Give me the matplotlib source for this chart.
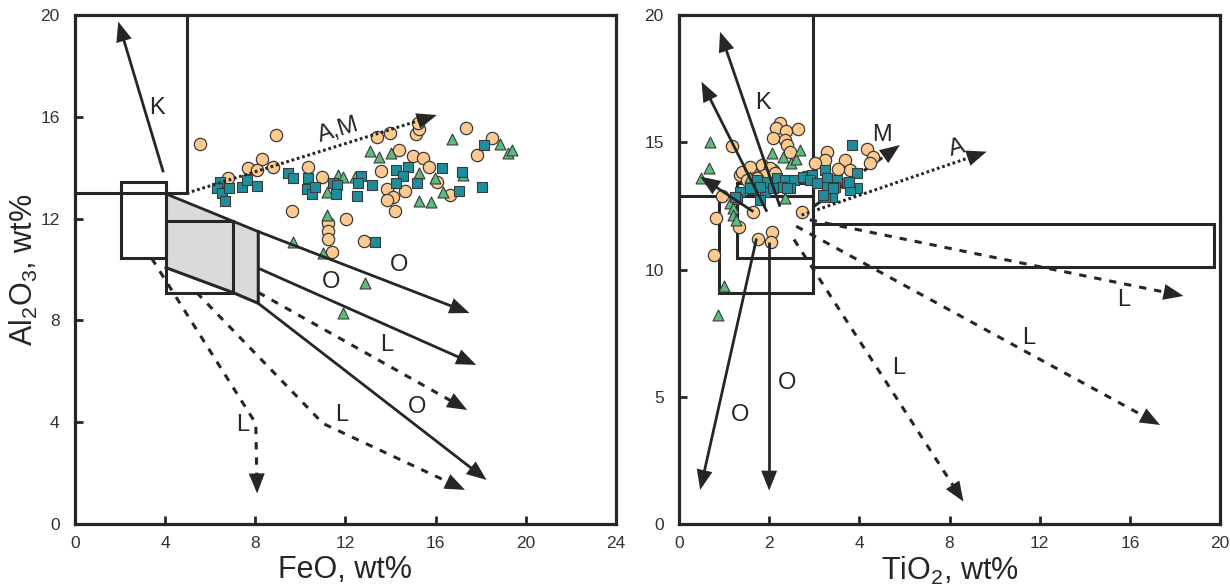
import numpy as np
import matplotlib

matplotlib.use("Agg")
import matplotlib.pyplot as plt

plt.rcParams["font.family"] = ["Liberation Sans", "DejaVu Sans"]
plt.rcParams["mathtext.fontset"] = "custom"
plt.rcParams["mathtext.rm"] = "Liberation Sans"

INK = "#262626"

# ---- FeO vs Al2O3 (left panel) ----
feo_circle = [5.55, 8.92, 8.28, 7.69, 8.06, 8.80, 10.35, 6.80, 9.64, 10.95,
              13.41, 13.98, 15.13, 15.28, 15.23, 17.35, 18.49, 17.85, 14.39, 13.58,
              15.01, 15.42, 15.72, 16.04, 16.64, 13.86, 14.12, 13.86, 14.20, 14.64,
              12.02, 11.24, 11.24, 11.24, 11.39, 12.82]
al_circle_l = [14.92, 15.28, 14.33, 14.00, 13.91, 14.04, 14.02, 13.58, 12.31, 13.62,
               15.19, 15.38, 15.32, 15.51, 15.74, 15.55, 15.16, 14.50, 14.70, 13.87,
               14.46, 14.37, 14.04, 13.45, 12.93, 13.15, 12.86, 12.73, 12.31, 13.10,
               12.00, 11.84, 11.53, 11.19, 10.70, 11.13]

feo_square = [6.43, 6.29, 6.51, 6.85, 6.65, 7.39, 7.65, 8.06, 9.46, 9.69,
              10.35, 10.28, 10.50, 10.65, 11.43, 11.64, 11.58, 12.67, 12.57, 13.16,
              12.50, 14.23, 14.79, 14.57, 14.23, 15.16, 16.30, 17.18, 17.05, 18.04,
              18.16, 13.31]
al_square_l = [13.45, 13.19, 12.99, 13.19, 12.70, 13.25, 13.52, 13.28, 13.80, 13.58,
               13.58, 13.15, 12.97, 13.25, 13.39, 13.32, 12.97, 13.69, 13.39, 13.31,
               12.89, 13.91, 14.04, 13.67, 13.39, 13.39, 13.98, 13.82, 13.10, 13.23,
               14.90, 11.07]

feo_tri = [9.66, 13.09, 13.49, 14.01, 16.74, 18.86, 19.22, 19.37, 11.68, 11.87,
           12.42, 11.19, 15.26, 15.97, 17.23, 16.31, 15.26, 15.78, 11.19, 11.02,
           12.87, 11.87]
al_tri_l = [11.09, 14.66, 14.43, 14.57, 15.12, 14.92, 14.59, 14.70, 13.71, 13.65,
            13.65, 13.06, 13.78, 13.61, 13.71, 13.03, 12.70, 12.66, 12.14, 10.64,
            9.46, 8.28]

# ---- TiO2 vs Al2O3 (right panel) ----
ti_circle = [1.17, 2.23, 2.15, 2.37, 2.65, 2.09, 2.35, 2.39, 2.46, 3.28,
             3.24, 3.02, 3.68, 3.79, 3.53, 4.32, 4.62, 4.47, 2.80, 1.35,
             1.61, 1.87, 2.09, 1.39, 1.58, 1.83, 2.02, 1.91, 2.13, 1.50,
             1.72, 1.65, 2.72, 0.95, 0.82, 1.32, 2.06, 2.04, 1.75, 0.78]
al_circle_r = [14.85, 15.77, 15.55, 15.44, 15.51, 15.15, 15.09, 14.89, 14.63, 14.63,
               14.30, 14.17, 14.30, 13.91, 13.94, 14.72, 14.43, 14.17, 13.65, 13.71,
               13.78, 14.04, 13.91, 13.84, 14.04, 14.10, 13.98, 13.71, 13.78, 13.52,
               13.58, 12.27, 12.27, 12.89, 12.01, 11.68, 11.49, 11.09, 11.19, 10.57]

ti_square = [1.72, 1.95, 2.17, 2.35, 2.54, 2.76, 2.94, 3.24, 3.28, 3.50,
             3.72, 3.94, 3.83, 3.94, 3.46, 3.28, 3.39, 3.24, 1.35, 1.28,
             1.61, 1.91, 2.28, 2.46, 3.79, 3.76, 1.58, 1.80, 2.09, 2.39,
             2.91, 3.05, 3.42, 3.20, 1.24, 1.80]
al_square_r = [13.52, 13.45, 13.58, 13.52, 13.52, 13.65, 13.71, 13.91, 13.58, 13.52,
               13.39, 13.78, 14.89, 13.19, 13.25, 13.25, 12.86, 12.86, 13.06, 12.76,
               13.15, 13.06, 13.23, 13.19, 13.12, 13.45, 13.19, 13.25, 13.19, 13.19,
               13.52, 13.39, 13.19, 12.93, 12.86, 12.73]

ti_tri = [0.69, 0.67, 0.49, 2.06, 2.30, 2.48, 2.60, 2.68, 1.13, 1.20,
          1.20, 1.26, 1.00, 0.86, 1.58, 2.35]
al_tri_r = [15.02, 13.98, 13.58, 14.59, 14.43, 14.20, 14.33, 14.70, 12.60, 12.40,
            12.14, 11.94, 9.35, 8.21, 13.65, 12.80]

# ---- fields and trends (data units) ----
left_field_lines = [
    [(0, 13.0), (4.95, 13.0), (4.95, 20.0)],
    [(2.03, 10.44), (4.04, 10.44), (4.04, 13.44), (2.03, 13.44), (2.03, 10.44)],
    [(4.04, 9.09), (7.02, 9.09), (7.02, 11.92), (4.04, 11.92), (4.04, 9.09)],
    [(4.04, 10.07), (7.02, 9.09), (8.13, 8.67), (8.13, 11.49)],
]
left_shade = [(4.04, 12.97), (8.13, 11.49), (8.13, 8.67), (7.02, 9.09), (4.04, 10.07)]
left_trends = [
    ([(3.92, 13.82), (1.92, 19.74)], "-"),
    ([(4.04, 12.97), (8.13, 11.49), (17.5, 8.29)], "-"),
    ([(8.13, 10.05), (17.8, 6.25)], "-"),
    ([(8.13, 8.67), (18.26, 1.73)], "-"),
    ([(3.4, 10.44), (8.02, 3.95), (8.08, 1.2)], "dash"),
    ([(5.4, 9.09), (11.0, 3.95), (17.3, 1.34)], "dash"),
    ([(8.13, 9.1), (17.4, 4.48)], "dash"),
    ([(4.95, 13.0), (16.05, 16.07)], "dot"),
]
left_labels = [("K", 3.64, 16.35, 0), ("A,M", 11.67, 15.48, 17),
               ("O", 14.37, 10.18, 0), ("O", 11.34, 9.52, 0), ("O", 15.16, 4.61, 0),
               ("L", 13.83, 7.03, 0), ("L", 11.83, 4.28, 0), ("L", 7.45, 3.89, 0)]

right_field_lines = [
    [(0, 12.9), (2.97, 12.9), (2.97, 20.0)],
    [(0.89, 9.06), (2.97, 9.06), (2.97, 12.9), (0.89, 12.9), (0.89, 9.06)],
    [(1.29, 10.46), (2.97, 10.46), (2.97, 13.41), (1.29, 13.41), (1.29, 10.46)],
    [(2.97, 10.09), (19.73, 10.09), (19.73, 11.79), (2.97, 11.79), (2.97, 10.09)],
]
right_trends = [
    ([(2.24, 12.47), (0.91, 19.34)], "-"),
    ([(1.95, 12.27), (0.50, 17.38)], "-"),
    ([(1.65, 12.27), (0.47, 13.65)], "-"),
    ([(1.72, 11.22), (0.47, 1.34)], "-"),
    ([(2.0, 11.09), (2.0, 1.31)], "-"),
    ([(2.72, 12.14), (9.65, 14.63)], "dot"),
    ([(2.9, 11.95), (18.38, 8.96)], "dash"),
    ([(2.6, 11.7), (17.34, 3.89)], "dash"),
    ([(2.55, 11.18), (8.62, 0.88)], "dash"),
]
right_m_trend = [(2.72, 12.14), (5.8, 14.89)]
right_labels = [("K", 1.87, 16.53, 0), ("M", 5.0, 15.28, 0), ("A", 8.32, 14.76, 15),
                ("O", 1.35, 4.28, 0), ("O", 2.39, 5.53, 0),
                ("L", 5.73, 6.12, 0), ("L", 11.5, 7.3, 0), ("L", 15.71, 8.8, 0)]

LINESTYLES = {"-": "-", "dash": (0, (2.4, 2.6)), "dot": (0, (0.9, 0.9))}
HEAD_L = 20.0
HEAD_W = 8.0


def fwd(x):
    x = np.asarray(x, dtype=float)
    return np.where(x <= 4, x, 4 + (x - 4) / 2)


def inv(u):
    u = np.asarray(u, dtype=float)
    return np.where(u <= 4, u, 4 + 2 * (u - 4))


def trend(ax, pts, style, z=4, head=True):
    tr = ax.transData
    d = tr.transform(np.asarray(pts, dtype=float))
    if head:
        tip = d[-1]
        v = tip - d[-2]
        v = v / np.hypot(*v)
        n = np.array([-v[1], v[0]])
        base = tip - v * HEAD_L
        tri = tr.inverted().transform(np.array([tip, base + n * HEAD_W, base - n * HEAD_W]))
        ax.fill(tri[:, 0], tri[:, 1], color=INK, lw=0, zorder=z)
        d = d.copy()
        d[-1] = base + v * 3
    xy = tr.inverted().transform(d)
    lw = 2.0 if style == "-" else 2.2
    ax.plot(xy[:, 0], xy[:, 1], color=INK, lw=lw, ls=LINESTYLES[style],
            zorder=z, solid_capstyle="butt", dash_capstyle="butt")


def style_axes(ax):
    for sp in ax.spines.values():
        sp.set_linewidth(2.3)
        sp.set_color(INK)
    ax.tick_params(direction="in", length=6, width=2, color=INK,
                   labelsize=12.5, labelcolor="#333333", top=False, right=False)
    ax.tick_params(axis="x", pad=9)
    ax.tick_params(axis="y", pad=11)


def points(ax, xc, yc, xt, yt, xs, ys):
    ax.scatter(xc, yc, s=78, marker="o", facecolor="#FDCB8F", edgecolor="#3a3a3a",
               linewidths=0.9, zorder=3)
    ax.scatter(xt, yt, s=62, marker="^", facecolor="#5DBA7D", edgecolor="#3a3a3a",
               linewidths=0.8, zorder=3.2)
    ax.scatter(xs, ys, s=54, marker="s", facecolor="#1F8E9C", edgecolor="#3a3a3a",
               linewidths=0.8, zorder=3.4)


def main() -> None:
    fig = plt.figure(figsize=(12.3, 5.88), dpi=100)
    bottom = 1 - 524 / 588
    height = (524 - 15) / 588
    ax_l = fig.add_axes([75 / 1230, bottom, (616 - 75) / 1230, height])
    ax_r = fig.add_axes([679 / 1230, bottom, (1220 - 679) / 1230, height])

    ax_l.set_xlim(0, 24)
    ax_l.set_ylim(0, 20)
    ax_l.set_xticks([0, 4, 8, 12, 16, 20, 24])
    ax_l.set_yticks([0, 4, 8, 12, 16, 20])

    ax_r.set_xscale("function", functions=(fwd, inv))
    ax_r.set_xlim(0, 20)
    ax_r.set_ylim(0, 20)
    ax_r.set_xticks([0, 2, 4, 8, 12, 16, 20])
    ax_r.set_xticklabels(["0", "2", "4", "8", "12", "16", "20"])
    ax_r.set_yticks([0, 5, 10, 15, 20])

    for ax in (ax_l, ax_r):
        style_axes(ax)

    # left panel
    sx, sy = zip(*left_shade)
    ax_l.fill(sx, sy, color="#D9DADB", lw=0, zorder=1)
    for line in left_field_lines:
        lx, ly = zip(*line)
        ax_l.plot(lx, ly, color=INK, lw=2.2, zorder=2, solid_joinstyle="miter")
    points(ax_l, feo_circle, al_circle_l, feo_tri, al_tri_l, feo_square, al_square_l)
    for pts, st in left_trends:
        trend(ax_l, pts, st)
    for txt, x, y, rot in left_labels:
        ax_l.text(x, y, txt, fontsize=17, ha="center", va="center", rotation=rot,
                  color=INK, zorder=5)

    # right panel
    for line in right_field_lines:
        lx, ly = zip(*line)
        ax_r.plot(lx, ly, color=INK, lw=2.2, zorder=2, solid_joinstyle="miter")
    trend(ax_r, right_m_trend, "dash", z=2.5)
    points(ax_r, ti_circle, al_circle_r, ti_tri, al_tri_r, ti_square, al_square_r)
    for pts, st in right_trends:
        trend(ax_r, pts, st)
    for txt, x, y, rot in right_labels:
        ax_r.text(x, y, txt, fontsize=17, ha="center", va="center", rotation=rot,
                  color=INK, zorder=5)

    ax_l.set_ylabel(r"Al$_\mathregular{2}$O$_\mathregular{3}$, wt%", fontsize=22, color=INK)
    ax_l.yaxis.set_label_coords(-0.065, 0.5)
    ax_l.set_xlabel("FeO, wt%", fontsize=22, color=INK)
    ax_l.xaxis.set_label_coords(0.5, -0.06)
    ax_r.set_xlabel(r"TiO$_\mathregular{2}$, wt%", fontsize=22, color=INK)
    ax_r.xaxis.set_label_coords(0.5, -0.06)

    fig.savefig("out.png", dpi=100)


if __name__ == "__main__":
    main()
